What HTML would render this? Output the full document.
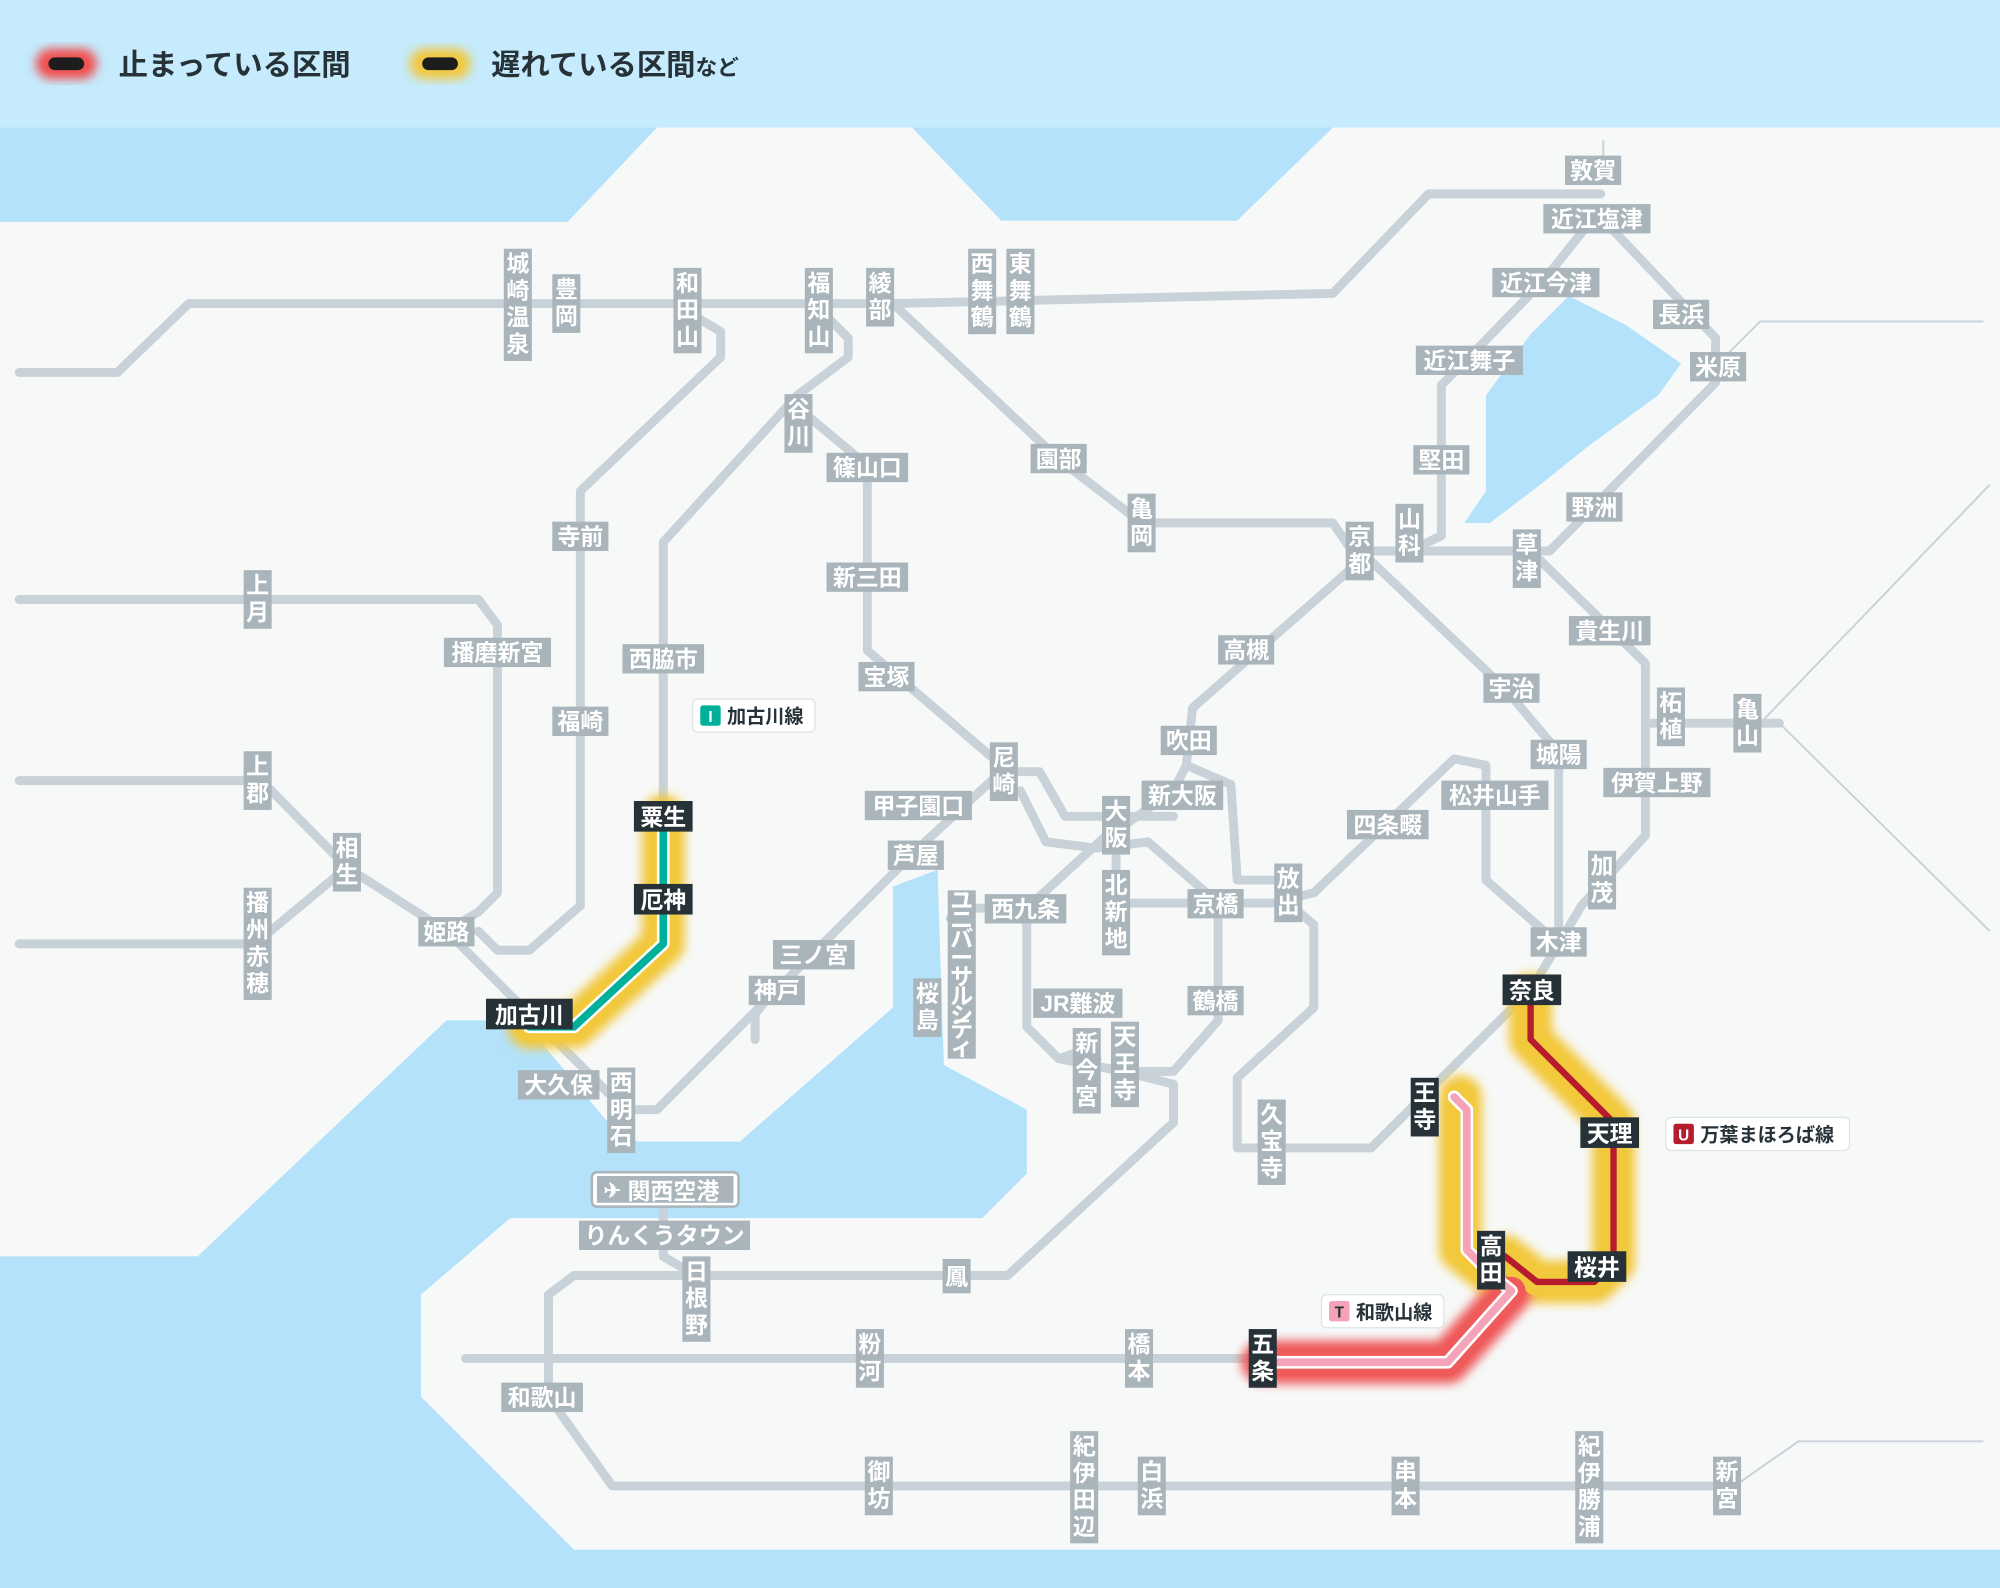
<!DOCTYPE html>
<html><head><meta charset="utf-8"><style>
html,body{margin:0;padding:0;background:#f7f9f9}
svg{display:block}
text{font-family:"Liberation Sans","Noto Sans CJK JP",sans-serif;font-weight:bold}
.l{fill:none;stroke:#c8d2d8;stroke-width:7;stroke-linejoin:round;stroke-linecap:round}
.t{fill:none;stroke:#c8d2d8;stroke-width:1.5}
.g rect{fill:#a9b5bb}
.g text{fill:#fff;font-size:18px;text-anchor:middle}
.d rect{fill:#263238}
.d text{fill:#fff;font-size:18px;text-anchor:middle}
</style></head><body>
<svg width="2000" height="1588" viewBox="0 0 1568 1245" preserveAspectRatio="none" xmlns="http://www.w3.org/2000/svg">
<defs>
<filter id="bl" x="-20%" y="-20%" width="140%" height="140%"><feGaussianBlur stdDeviation="4"/></filter>
</defs>
<rect width="1568" height="1245" fill="#f7f9f9"/>
<g fill="#b3e2fa">
<polygon points="0,100 515,100 445,174 0,174"/>
<polygon points="715,100 1045,100 970,173 785,173"/>
<polygon points="1230,232 1275,255 1318,285 1300,310 1245,350 1205,382 1168,410 1148,410 1165,385 1165,310 1200,262"/>
<polygon points="0,985 155,985 350,800 410,800 475,878 500,895 580,895 700,790 700,695 735,682 740,835 805,870 805,920 770,955 400,955 330,1015 330,1095 450,1215 1568,1215 1568,1245 0,1245"/>
</g>
<rect x="0" y="0" width="1568" height="100" fill="#c5ebfd"/>
<polyline class="t" points="1345,287 1380,252 1555,252"/>
<polyline class="t" points="1380,567 1560,380"/>
<polyline class="t" points="1395,567 1560,730"/>
<polyline class="t" points="1360,1165 1410,1130 1555,1130"/>
<line class="t" x1="1257" y1="110" x2="1257" y2="125"/>
<g class="l">
<polyline points="15,292 92,292 148,238 700,238 1045,230 1120,152 1255,152"/>
<polyline points="1250,165 1345,265 1345,300 1215,432 1060,432"/>
<polyline points="1250,170 1210,220 1150,282 1130,302 1130,420 1105,432"/>
<polyline points="700,238 830,360 895,410 1045,410 1060,432"/>
<polyline points="650,250 665,265 665,280 625,310 520,425 520,640"/>
<polyline points="626,320 680,365 680,510 785,600"/>
<polyline points="540,245 565,260 565,280 455,385 455,710 415,745 390,745 375,730"/>
<polyline points="15,470 375,470 390,490 390,700 375,715 350,730"/>
<polyline points="15,612 205,612 272,680 350,730"/>
<polyline points="15,740 200,740 272,680"/>
<polyline points="350,730 440,820 490,870 515,870 600,785 720,665 785,605 815,605 835,640 875,640 920,640"/>
<polyline points="600,785 592,795 592,815"/>
<polyline points="1066,440 935,555 930,600 920,620 880,648"/>
<polyline points="930,600 965,615 970,690 1010,690"/>
<polyline points="1075,440 1180,540 1222,590 1222,740 1200,776"/>
<polyline points="1200,432 1290,520 1290,567 1395,567"/>
<polyline points="1290,567 1290,655 1240,710 1222,740"/>
<polyline points="1222,740 1165,690 1165,600 1140,595 1030,700 1010,705"/>
<polyline points="800,620 820,660 860,665 900,660 955,708 955,800 920,840 880,840 830,830 805,805 805,712 840,680 875,648"/>
<polyline points="875,648 875,708 1010,708"/>
<polyline points="805,712 755,712 745,720"/>
<polyline points="1010,708 1030,725 1030,790 970,845 970,900 1075,900 1200,776"/>
<polyline points="830,830 845,825 860,830"/>
<polyline points="880,840 920,850 920,880 790,1000 545,1000 450,1000 430,1015 430,1095"/>
<polyline points="520,935 520,985 545,1000"/>
<polyline points="365,1065 450,1065 990,1065"/>
<polyline points="430,1095 480,1165 1360,1165"/>
</g>
<g filter="url(#bl)" fill="none" stroke-linejoin="round" stroke-linecap="round">
<polyline stroke="#f2c83d" stroke-width="34" points="520,640 520,740 450,805 415,805"/>
<polyline stroke="#f2c83d" stroke-width="34" points="1145,860 1145,980 1170,1000"/>
<polyline stroke="#f2c83d" stroke-width="34" points="1200,780 1200,815 1265,880 1265,990 1250,1005 1205,1005 1180,985"/>
<polyline stroke="#ef5a5a" stroke-width="34" points="990,1068 1135,1068 1185,1012"/>
</g>
<g fill="none" stroke-linejoin="round" stroke-linecap="round">
<polyline stroke="#f2c83d" stroke-width="22" points="520,640 520,740 450,805 415,805"/>
<polyline stroke="#f2c83d" stroke-width="22" points="1145,860 1145,980 1170,1000"/>
<polyline stroke="#f2c83d" stroke-width="22" points="1200,780 1200,815 1265,880 1265,990 1250,1005 1205,1005 1180,985"/>
<polyline stroke="#ef5a5a" stroke-width="22" points="990,1068 1135,1068 1185,1012"/>
<polyline stroke="#fff" stroke-width="10" points="520,640 520,740 450,805 415,805"/>
<polyline stroke="#00b09b" stroke-width="6" points="520,640 520,740 450,805 415,805"/>
<polyline stroke="#fff" stroke-width="10" points="1140,860 1150,870 1150,980 1170,1000 1185,1012 1135,1068 990,1068"/>
<polyline stroke="#f4a3b8" stroke-width="6" points="1140,860 1150,870 1150,980 1170,1000 1185,1012 1135,1068 990,1068"/>
<polyline stroke="#b71c2c" stroke-width="5" points="1200,780 1200,815 1265,880 1265,990 1250,1005 1205,1005 1180,985"/>
</g>
<g class="g">
<rect x="1227" y="122" width="44" height="23"/><text x="1249" y="140">敦賀</text>
<rect x="1210" y="160" width="84" height="23"/><text x="1252" y="178">近江塩津</text>
<rect x="1170" y="210" width="84" height="23"/><text x="1212" y="228">近江今津</text>
<rect x="1296" y="235" width="44" height="23"/><text x="1318" y="253">長浜</text>
<rect x="1110" y="271" width="84" height="23"/><text x="1152" y="289">近江舞子</text>
<rect x="1325" y="276" width="44" height="23"/><text x="1347" y="294">米原</text>
<rect x="1108" y="349" width="44" height="23"/><text x="1130" y="367">堅田</text>
<rect x="1228" y="386" width="44" height="23"/><text x="1250" y="404">野洲</text>
<rect x="808" y="348" width="44" height="23"/><text x="830" y="366">園部</text>
<rect x="648" y="355" width="64" height="23"/><text x="680" y="373">篠山口</text>
<rect x="433" y="409" width="44" height="23"/><text x="455" y="427">寺前</text>
<rect x="648" y="441" width="64" height="23"/><text x="680" y="459">新三田</text>
<rect x="1230" y="483" width="64" height="23"/><text x="1262" y="501">貴生川</text>
<rect x="348" y="500" width="84" height="23"/><text x="390" y="518">播磨新宮</text>
<rect x="488" y="505" width="64" height="23"/><text x="520" y="523">西脇市</text>
<rect x="955" y="498" width="44" height="23"/><text x="977" y="516">高槻</text>
<rect x="673" y="519" width="44" height="23"/><text x="695" y="537">宝塚</text>
<rect x="1163" y="528" width="44" height="23"/><text x="1185" y="546">宇治</text>
<rect x="433" y="554" width="44" height="23"/><text x="455" y="572">福崎</text>
<rect x="910" y="569" width="44" height="23"/><text x="932" y="587">吹田</text>
<rect x="1200" y="580" width="44" height="23"/><text x="1222" y="598">城陽</text>
<rect x="1257" y="602" width="84" height="23"/><text x="1299" y="620">伊賀上野</text>
<rect x="1130" y="612" width="84" height="23"/><text x="1172" y="630">松井山手</text>
<rect x="895" y="612" width="64" height="23"/><text x="927" y="630">新大阪</text>
<rect x="678" y="620" width="84" height="23"/><text x="720" y="638">甲子園口</text>
<rect x="1056" y="635" width="64" height="23"/><text x="1088" y="653">四条畷</text>
<rect x="696" y="659" width="44" height="23"/><text x="718" y="677">芦屋</text>
<rect x="772" y="701" width="64" height="23"/><text x="804" y="719">西九条</text>
<rect x="931" y="697" width="44" height="23"/><text x="953" y="715">京橋</text>
<rect x="1200" y="727" width="44" height="23"/><text x="1222" y="745">木津</text>
<rect x="328" y="719" width="44" height="23"/><text x="350" y="737">姫路</text>
<rect x="606" y="737" width="64" height="23"/><text x="638" y="755">三ノ宮</text>
<rect x="587" y="765" width="44" height="23"/><text x="609" y="783">神戸</text>
<rect x="810" y="775" width="70" height="23"/><text x="845" y="793">JR難波</text>
<rect x="931" y="773" width="44" height="23"/><text x="953" y="791">鶴橋</text>
<rect x="406" y="839" width="64" height="23"/><text x="438" y="857">大久保</text>
<rect x="454" y="957" width="134" height="23"/><text x="521" y="975">りんくうタウン</text>
<rect x="393" y="1084" width="64" height="23"/><text x="425" y="1102">和歌山</text>
</g>
<g class="g">
<rect x="395" y="195" width="22" height="88"/><text x="406" y="213">城</text><text x="406" y="234">崎</text><text x="406" y="255">温</text><text x="406" y="276">泉</text>
<rect x="433" y="215" width="22" height="46"/><text x="444" y="233">豊</text><text x="444" y="254">岡</text>
<rect x="528" y="210" width="22" height="67"/><text x="539" y="228">和</text><text x="539" y="249">田</text><text x="539" y="270">山</text>
<rect x="631" y="210" width="22" height="67"/><text x="642" y="228">福</text><text x="642" y="249">知</text><text x="642" y="270">山</text>
<rect x="679" y="210" width="22" height="46"/><text x="690" y="228">綾</text><text x="690" y="249">部</text>
<rect x="759" y="195" width="22" height="67"/><text x="770" y="213">西</text><text x="770" y="234">舞</text><text x="770" y="255">鶴</text>
<rect x="789" y="195" width="22" height="67"/><text x="800" y="213">東</text><text x="800" y="234">舞</text><text x="800" y="255">鶴</text>
<rect x="615" y="309" width="22" height="46"/><text x="626" y="327">谷</text><text x="626" y="348">川</text>
<rect x="884" y="387" width="22" height="46"/><text x="895" y="405">亀</text><text x="895" y="426">岡</text>
<rect x="1055" y="409" width="22" height="46"/><text x="1066" y="427">京</text><text x="1066" y="448">都</text>
<rect x="1094" y="395" width="22" height="46"/><text x="1105" y="413">山</text><text x="1105" y="434">科</text>
<rect x="1186" y="415" width="22" height="46"/><text x="1197" y="433">草</text><text x="1197" y="454">津</text>
<rect x="191" y="447" width="22" height="46"/><text x="202" y="465">上</text><text x="202" y="486">月</text>
<rect x="191" y="589" width="22" height="46"/><text x="202" y="607">上</text><text x="202" y="628">郡</text>
<rect x="261" y="653" width="22" height="46"/><text x="272" y="671">相</text><text x="272" y="692">生</text>
<rect x="191" y="696" width="22" height="88"/><text x="202" y="714">播</text><text x="202" y="735">州</text><text x="202" y="756">赤</text><text x="202" y="777">穂</text>
<rect x="776" y="582" width="22" height="46"/><text x="787" y="600">尼</text><text x="787" y="621">崎</text>
<rect x="864" y="624" width="22" height="46"/><text x="875" y="642">大</text><text x="875" y="663">阪</text>
<rect x="864" y="682" width="22" height="67"/><text x="875" y="700">北</text><text x="875" y="721">新</text><text x="875" y="742">地</text>
<rect x="999" y="677" width="22" height="46"/><text x="1010" y="695">放</text><text x="1010" y="716">出</text>
<rect x="1299" y="539" width="22" height="46"/><text x="1310" y="557">柘</text><text x="1310" y="578">植</text>
<rect x="1359" y="544" width="22" height="46"/><text x="1370" y="562">亀</text><text x="1370" y="583">山</text>
<rect x="1245" y="667" width="22" height="46"/><text x="1256" y="685">加</text><text x="1256" y="706">茂</text>
<rect x="743" y="698" width="22" height="132"/>
<g font-size="14"><text x="754" y="712" font-size="14">ユ</text><text x="754" y="727" font-size="14">ニ</text><text x="754" y="742" font-size="14">バ</text><text x="754" y="757" font-size="14">ー</text><text x="754" y="772" font-size="14">サ</text><text x="754" y="787" font-size="14">ル</text><text x="754" y="802" font-size="14">シ</text><text x="754" y="813" font-size="14">テ</text><text x="754" y="827" font-size="14">ィ</text></g>
<rect x="716" y="767" width="22" height="46"/><text x="727" y="785">桜</text><text x="727" y="806">島</text>
<rect x="841" y="806" width="22" height="67"/><text x="852" y="824">新</text><text x="852" y="845">今</text><text x="852" y="866">宮</text>
<rect x="871" y="801" width="22" height="67"/><text x="882" y="819">天</text><text x="882" y="840">王</text><text x="882" y="861">寺</text>
<rect x="986" y="862" width="22" height="67"/><text x="997" y="880">久</text><text x="997" y="901">宝</text><text x="997" y="922">寺</text>
<rect x="476" y="837" width="22" height="67"/><text x="487" y="855">西</text><text x="487" y="876">明</text><text x="487" y="897">石</text>
<rect x="535" y="985" width="22" height="67"/><text x="546" y="1003">日</text><text x="546" y="1024">根</text><text x="546" y="1045">野</text>
<rect x="739" y="987" width="22" height="27"/><text x="750" y="1007">鳳</text>
<rect x="671" y="1042" width="22" height="46"/><text x="682" y="1060">粉</text><text x="682" y="1081">河</text>
<rect x="882" y="1042" width="22" height="46"/><text x="893" y="1060">橋</text><text x="893" y="1081">本</text>
<rect x="678" y="1142" width="22" height="46"/><text x="689" y="1160">御</text><text x="689" y="1181">坊</text>
<rect x="839" y="1122" width="22" height="88"/><text x="850" y="1140">紀</text><text x="850" y="1161">伊</text><text x="850" y="1182">田</text><text x="850" y="1203">辺</text>
<rect x="892" y="1142" width="22" height="46"/><text x="903" y="1160">白</text><text x="903" y="1181">浜</text>
<rect x="1091" y="1142" width="22" height="46"/><text x="1102" y="1160">串</text><text x="1102" y="1181">本</text>
<rect x="1235" y="1122" width="22" height="88"/><text x="1246" y="1140">紀</text><text x="1246" y="1161">伊</text><text x="1246" y="1182">勝</text><text x="1246" y="1203">浦</text>
<rect x="1343" y="1142" width="22" height="46"/><text x="1354" y="1160">新</text><text x="1354" y="1181">宮</text>
</g>
<g class="d">
<rect x="497" y="628" width="46" height="24"/><text x="520" y="647">粟生</text>
<rect x="497" y="693" width="46" height="24"/><text x="520" y="712">厄神</text>
<rect x="381" y="783" width="68" height="24"/><text x="415" y="802">加古川</text>
<rect x="1178" y="764" width="46" height="24"/><text x="1201" y="783">奈良</text>
<rect x="1239" y="876" width="46" height="24"/><text x="1262" y="895">天理</text>
<rect x="1229" y="981" width="46" height="24"/><text x="1252" y="1000">桜井</text>
<rect x="1106" y="845" width="22" height="46"/><text x="1117" y="863">王</text><text x="1117" y="884">寺</text>
<rect x="1158" y="965" width="22" height="46"/><text x="1169" y="983">高</text><text x="1169" y="1004">田</text>
<rect x="979" y="1042" width="22" height="46"/><text x="990" y="1060">五</text><text x="990" y="1081">条</text>
</g>
<g font-size="15">
<rect x="543" y="548" width="96" height="26" rx="4" fill="#fff" stroke="#dde3e6"/>
<rect x="549" y="553" width="16" height="16" rx="2" fill="#00b09b"/><text x="557" y="566" fill="#fff" font-size="12" text-anchor="middle">I</text>
<text x="570" y="567" fill="#263238">加古川線</text>
<rect x="1306" y="876" width="144" height="26" rx="4" fill="#fff" stroke="#dde3e6"/>
<rect x="1312" y="881" width="16" height="16" rx="2" fill="#b71c2c"/><text x="1320" y="894" fill="#fff" font-size="12" text-anchor="middle">U</text>
<text x="1333" y="895" fill="#263238">万葉まほろば線</text>
<rect x="1036" y="1015" width="96" height="26" rx="4" fill="#fff" stroke="#dde3e6"/>
<rect x="1042" y="1020" width="16" height="16" rx="2" fill="#f4a3b8"/><text x="1050" y="1033" fill="#263238" font-size="12" text-anchor="middle">T</text>
<text x="1063" y="1034" fill="#263238">和歌山線</text>
<rect x="464" y="919" width="115" height="27" rx="4" fill="#fff" stroke="#a9b5bb" stroke-width="2"/>
<rect x="468" y="922" width="107" height="21" fill="#a9b5bb"/>
<text x="480" y="939" fill="#fff" font-size="16" text-anchor="middle">✈</text>
<text x="492" y="940" fill="#fff" font-size="18">関西空港</text>
</g>
<g>
<rect x="28" y="38" width="48" height="24" rx="12" fill="#f05050" filter="url(#bl)"/>
<rect x="38" y="45" width="28" height="10" rx="5" fill="#1d1d1d"/>
<text x="93" y="59" font-size="23" fill="#263238">止まっている区間</text>
<rect x="321" y="38" width="48" height="24" rx="12" fill="#f2c83d" filter="url(#bl)"/>
<rect x="331" y="45" width="28" height="10" rx="5" fill="#1d1d1d"/>
<text x="385" y="59" font-size="23" fill="#263238">遅れている区間<tspan font-size="17">など</tspan></text>
</g>
</svg>
</body></html>
